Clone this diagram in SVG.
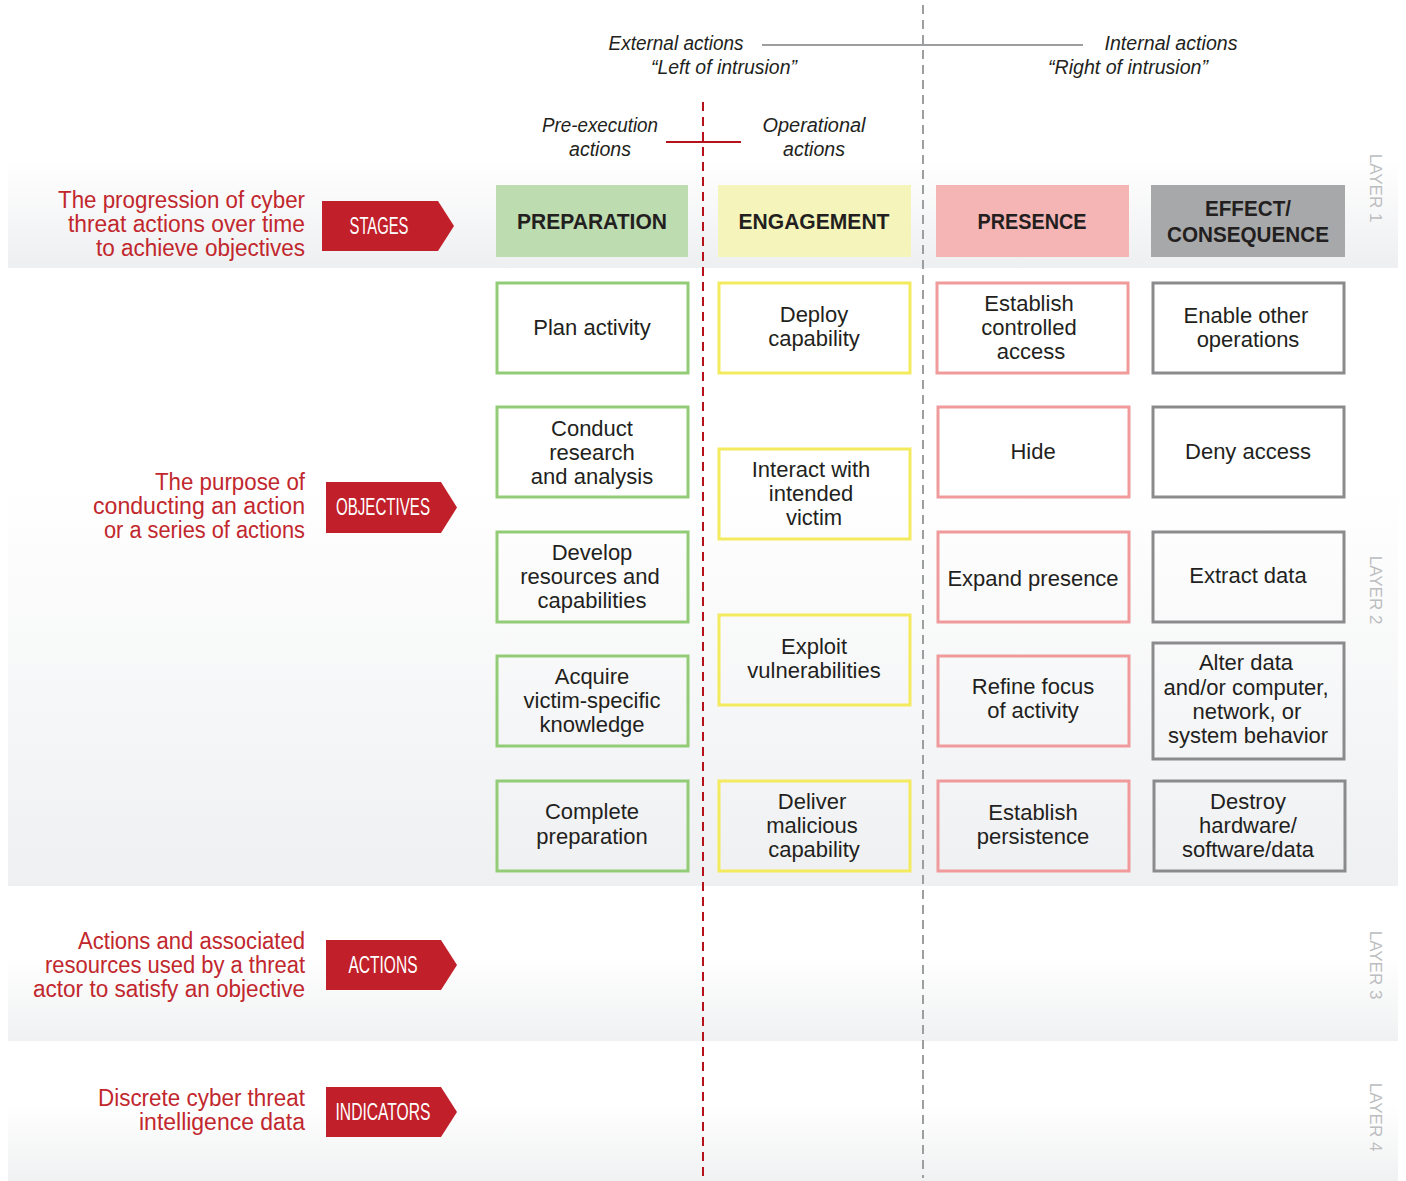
<svg xmlns="http://www.w3.org/2000/svg" width="1406" height="1181" viewBox="0 0 1406 1181">
<defs>
<linearGradient id="g1" x1="0" y1="0" x2="0" y2="1"><stop offset="0" stop-color="#ffffff"/><stop offset="1" stop-color="#eeeff1"/></linearGradient>
<linearGradient id="g2" x1="0" y1="0" x2="0" y2="1"><stop offset="0" stop-color="#ffffff"/><stop offset="0.35" stop-color="#ffffff"/><stop offset="1" stop-color="#eff0f2"/></linearGradient>
<linearGradient id="g3" x1="0" y1="0" x2="0" y2="1"><stop offset="0" stop-color="#ffffff"/><stop offset="0.45" stop-color="#ffffff"/><stop offset="1" stop-color="#f0f1f2"/></linearGradient>
</defs>
<style>
.box{fill:none;stroke-width:3}
.gr{stroke:#93cc76}
.ye{stroke:#f4ea5e}
.pk{stroke:#f09a9b}
.gy{stroke:#8b8b8d}
.bt{font-family:"Liberation Sans",Arial,sans-serif;font-size:22px;fill:#231f20;text-anchor:middle}
.hd{font-family:"Liberation Sans",Arial,sans-serif;font-size:22px;font-weight:bold;fill:#231f20;text-anchor:middle}
.rd{font-family:"Liberation Sans",Arial,sans-serif;font-size:23px;fill:#c1272d;text-anchor:end}
.tg{font-family:"Liberation Sans",Arial,sans-serif;font-size:23px;fill:#ffffff;text-anchor:middle}
.it{font-family:"Liberation Sans",Arial,sans-serif;font-size:20px;font-style:italic;fill:#231f20;text-anchor:middle}
.ly{font-family:"Liberation Sans",Arial,sans-serif;font-size:17px;fill:#bcbdbf;text-anchor:middle}
.tag{fill:#c1202a}
</style>

<g id="bands">
<rect x="8" y="160" width="1390" height="108" fill="url(#g1)"/>
<rect x="8" y="268" width="1390" height="618" fill="url(#g2)"/>
<rect x="8" y="886" width="1390" height="155" fill="url(#g3)"/>
<rect x="8" y="1041" width="1390" height="140" fill="url(#g3)"/>
</g>

<g id="connectors">
<line x1="762" y1="45" x2="1083" y2="45" stroke="#9d9ea0" stroke-width="2"/>
<line x1="923" y1="5" x2="923" y2="1178" stroke="#9d9ea0" stroke-width="2" stroke-dasharray="9,6"/>
<line x1="666" y1="142" x2="741" y2="142" stroke="#b5121b" stroke-width="2"/>
<line x1="703" y1="102" x2="703" y2="1178" stroke="#b5121b" stroke-width="2" stroke-dasharray="9,6"/>
</g>

<g id="top-labels">
<text class="it" x="676" y="50" textLength="135" lengthAdjust="spacingAndGlyphs">External actions</text>
<text class="it" x="724" y="74" textLength="146" lengthAdjust="spacingAndGlyphs">“Left of intrusion”</text>
<text class="it" x="1171" y="50" textLength="133" lengthAdjust="spacingAndGlyphs">Internal actions</text>
<text class="it" x="1128" y="74" textLength="160" lengthAdjust="spacingAndGlyphs">“Right of intrusion”</text>
<text class="it" x="600" y="132" textLength="116" lengthAdjust="spacingAndGlyphs">Pre-execution</text>
<text class="it" x="600" y="156" textLength="62" lengthAdjust="spacingAndGlyphs">actions</text>
<text class="it" x="814" y="132" textLength="103" lengthAdjust="spacingAndGlyphs">Operational</text>
<text class="it" x="814" y="156" textLength="62" lengthAdjust="spacingAndGlyphs">actions</text>
</g>

<g id="layer-labels">
<text class="ly" transform="translate(1370,188) rotate(90)">LAYER 1</text>
<text class="ly" transform="translate(1370,590) rotate(90)">LAYER 2</text>
<text class="ly" transform="translate(1370,965) rotate(90)">LAYER 3</text>
<text class="ly" transform="translate(1370,1117) rotate(90)">LAYER 4</text>
</g>

<g id="stages">
<text class="rd" x="305" y="208" textLength="247" lengthAdjust="spacingAndGlyphs">The progression of cyber</text>
<text class="rd" x="305" y="232" textLength="237" lengthAdjust="spacingAndGlyphs">threat actions over time</text>
<text class="rd" x="305" y="256" textLength="209" lengthAdjust="spacingAndGlyphs">to achieve objectives</text>
<polygon class="tag" points="322,201 438,201 454,226 438,251 322,251"/>
<text class="tg" x="379" y="234" textLength="59" lengthAdjust="spacingAndGlyphs">STAGES</text>
</g>

<g id="objectives">
<text class="rd" x="305" y="490" textLength="150" lengthAdjust="spacingAndGlyphs">The purpose of</text>
<text class="rd" x="305" y="514" textLength="212" lengthAdjust="spacingAndGlyphs">conducting an action</text>
<text class="rd" x="305" y="538" textLength="201" lengthAdjust="spacingAndGlyphs">or a series of actions</text>
<polygon class="tag" points="326,482 441,482 457,507.5 441,533 326,533"/>
<text class="tg" x="383" y="515" textLength="94" lengthAdjust="spacingAndGlyphs">OBJECTIVES</text>
</g>

<g id="actions">
<text class="rd" x="305" y="949" textLength="227" lengthAdjust="spacingAndGlyphs">Actions and associated</text>
<text class="rd" x="305" y="973" textLength="260" lengthAdjust="spacingAndGlyphs">resources used by a threat</text>
<text class="rd" x="305" y="997" textLength="272" lengthAdjust="spacingAndGlyphs">actor to satisfy an objective</text>
<polygon class="tag" points="326,940 441,940 457,965 441,990 326,990"/>
<text class="tg" x="383" y="973" textLength="69" lengthAdjust="spacingAndGlyphs">ACTIONS</text>
</g>

<g id="indicators">
<text class="rd" x="305" y="1106" textLength="207" lengthAdjust="spacingAndGlyphs">Discrete cyber threat</text>
<text class="rd" x="305" y="1130" textLength="166" lengthAdjust="spacingAndGlyphs">intelligence data</text>
<polygon class="tag" points="326,1087 441,1087 457,1112 441,1137 326,1137"/>
<text class="tg" x="383" y="1120" textLength="95" lengthAdjust="spacingAndGlyphs">INDICATORS</text>
</g>

<g id="hdr-preparation">
<rect x="496" y="185" width="192" height="72" fill="#bddcb0"/>
<text class="hd" x="592" y="229" textLength="150" lengthAdjust="spacingAndGlyphs">PREPARATION</text>
</g>
<g id="hdr-engagement">
<rect x="718" y="185" width="193" height="72" fill="#f5f5bb"/>
<text class="hd" x="814" y="229" textLength="151" lengthAdjust="spacingAndGlyphs">ENGAGEMENT</text>
</g>
<g id="hdr-presence">
<rect x="936" y="185" width="193" height="72" fill="#f6b5b5"/>
<text class="hd" x="1032" y="229" textLength="109" lengthAdjust="spacingAndGlyphs">PRESENCE</text>
</g>
<g id="hdr-effect">
<rect x="1151" y="185" width="194" height="72" fill="#a7a8aa"/>
<text class="hd" x="1248" y="216" textLength="86" lengthAdjust="spacingAndGlyphs">EFFECT/</text>
<text class="hd" x="1248" y="242" textLength="162" lengthAdjust="spacingAndGlyphs">CONSEQUENCE</text>
</g>

<g id="plan-activity"><rect class="box gr" x="497" y="283" width="191" height="90"/><text class="bt" x="592" y="335">Plan activity</text></g>
<g id="conduct-research"><rect class="box gr" x="497" y="407" width="191" height="90"/><text class="bt" x="592" y="436">Conduct</text><text class="bt" x="592" y="460">research</text><text class="bt" x="592" y="484">and analysis</text></g>
<g id="develop-resources"><rect class="box gr" x="497" y="532" width="191" height="90"/><text class="bt" x="592" y="560">Develop</text><text class="bt" x="590" y="584">resources and</text><text class="bt" x="592" y="608">capabilities</text></g>
<g id="acquire-knowledge"><rect class="box gr" x="497" y="656" width="191" height="90"/><text class="bt" x="592" y="684">Acquire</text><text class="bt" x="592" y="708">victim-specific</text><text class="bt" x="592" y="732">knowledge</text></g>
<g id="complete-preparation"><rect class="box gr" x="497" y="781" width="191" height="90"/><text class="bt" x="592" y="819">Complete</text><text class="bt" x="592" y="844">preparation</text></g>

<g id="deploy-capability"><rect class="box ye" x="719" y="283" width="191" height="90"/><text class="bt" x="814" y="322">Deploy</text><text class="bt" x="814" y="346">capability</text></g>
<g id="interact-victim"><rect class="box ye" x="719" y="449" width="191" height="90"/><text class="bt" x="811" y="477">Interact with</text><text class="bt" x="811" y="501">intended</text><text class="bt" x="814" y="525">victim</text></g>
<g id="exploit-vulnerabilities"><rect class="box ye" x="719" y="615" width="191" height="90"/><text class="bt" x="814" y="654">Exploit</text><text class="bt" x="814" y="678">vulnerabilities</text></g>
<g id="deliver-malicious"><rect class="box ye" x="719" y="781" width="191" height="90"/><text class="bt" x="812" y="809">Deliver</text><text class="bt" x="812" y="833">malicious</text><text class="bt" x="814" y="857">capability</text></g>

<g id="establish-access"><rect class="box pk" x="937" y="283" width="191" height="90"/><text class="bt" x="1029" y="311">Establish</text><text class="bt" x="1029" y="335">controlled</text><text class="bt" x="1031" y="359">access</text></g>
<g id="hide"><rect class="box pk" x="938" y="407" width="191" height="90"/><text class="bt" x="1033" y="459">Hide</text></g>
<g id="expand-presence"><rect class="box pk" x="938" y="532" width="191" height="90"/><text class="bt" x="1033" y="586">Expand presence</text></g>
<g id="refine-focus"><rect class="box pk" x="938" y="656" width="191" height="90"/><text class="bt" x="1033" y="694">Refine focus</text><text class="bt" x="1033" y="718">of activity</text></g>
<g id="establish-persistence"><rect class="box pk" x="938" y="781" width="191" height="90"/><text class="bt" x="1033" y="820">Establish</text><text class="bt" x="1033" y="844">persistence</text></g>

<g id="enable-operations"><rect class="box gy" x="1153" y="283" width="191" height="90"/><text class="bt" x="1246" y="323">Enable other</text><text class="bt" x="1248" y="347">operations</text></g>
<g id="deny-access"><rect class="box gy" x="1153" y="407" width="191" height="90"/><text class="bt" x="1248" y="459">Deny access</text></g>
<g id="extract-data"><rect class="box gy" x="1153" y="532" width="191" height="90"/><text class="bt" x="1248" y="583">Extract data</text></g>
<g id="alter-data"><rect class="box gy" x="1153" y="643" width="191" height="116"/><text class="bt" x="1246" y="670">Alter data</text><text class="bt" x="1246" y="695">and/or computer,</text><text class="bt" x="1247" y="719">network, or</text><text class="bt" x="1248" y="743">system behavior</text></g>
<g id="destroy-hardware"><rect class="box gy" x="1154" y="781" width="191" height="90"/><text class="bt" x="1248" y="809">Destroy</text><text class="bt" x="1248" y="833">hardware/</text><text class="bt" x="1248" y="857">software/data</text></g>
</svg>
